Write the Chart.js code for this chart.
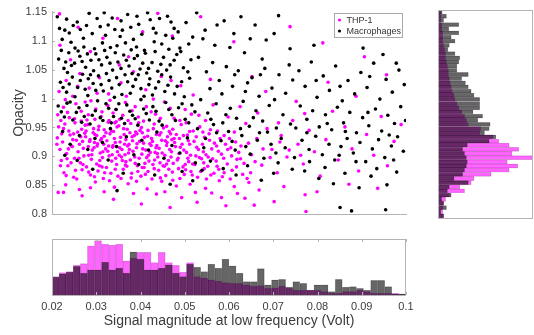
<!DOCTYPE html>
<html>
<head>
<meta charset="utf-8">
<script src="https://cdn.jsdelivr.net/npm/chart.js@4.4.1/dist/chart.umd.min.js"></script>
<style>
  body { margin: 0; background: #fff; width: 534px; height: 335px; position: relative; overflow: hidden; }
  canvas { position: absolute; }
</style>
</head>
<body>
<canvas id="scatter" width="420" height="226" style="left:0px;top:0px"></canvas>
<canvas id="histX" width="420" height="105" style="left:0px;top:230px"></canvas>
<canvas id="histY" width="114" height="230" style="left:420px;top:0px"></canvas>
<script>
const seriesNames = ["THP-1", "Macrophages"];
const xTicks = [0.02, 0.03, 0.04, 0.05, 0.06, 0.07, 0.08, 0.09, 0.1];
const yTicks = [0.8, 0.85, 0.9, 0.95, 1, 1.05, 1.1, 1.15];

// scatter points [signal, opacity]
const thpPoints = [
  [0.0215,0.951],[0.0238,0.944],[0.0252,0.958],[0.0267,0.947],[0.0281,0.955],[0.0293,0.941],[0.0306,0.952],[0.0318,0.946],[0.0327,0.959],[0.0339,0.943],
  [0.0351,0.953],[0.0362,0.948],[0.0378,0.957],[0.0389,0.942],[0.0402,0.950],[0.0417,0.945],[0.0431,0.956],[0.0446,0.941],[0.0459,0.952],[0.0473,0.947],
  [0.0492,0.955],[0.0511,0.943],[0.0534,0.951],[0.0558,0.946],[0.0229,0.956],[0.0274,0.940],[0.0345,0.960],[0.0396,0.958],[0.0452,0.949],[0.0503,0.958],
  [0.0212,0.932],[0.0224,0.925],[0.0241,0.937],[0.0255,0.928],[0.0262,0.921],[0.0276,0.934],[0.0285,0.926],[0.0297,0.938],[0.0303,0.922],[0.0312,0.931],
  [0.0324,0.927],[0.0331,0.939],[0.0343,0.924],[0.0355,0.933],[0.0367,0.929],[0.0374,0.921],[0.0386,0.936],[0.0398,0.926],[0.0409,0.933],[0.0421,0.922],
  [0.0436,0.938],[0.0448,0.928],[0.0461,0.934],[0.0477,0.924],[0.0488,0.931],[0.0506,0.937],[0.0521,0.926],[0.0545,0.933],[0.0567,0.923],[0.0589,0.936],
  [0.0247,0.929],[0.0318,0.935],[0.0392,0.939],[0.0468,0.939],
  [0.0218,0.912],[0.0233,0.905],[0.0246,0.917],[0.0259,0.908],[0.0271,0.914],[0.0283,0.902],[0.0291,0.911],[0.0302,0.918],[0.0309,0.906],[0.0321,0.913],
  [0.0329,0.901],[0.0337,0.916],[0.0348,0.908],[0.0358,0.912],[0.0365,0.903],[0.0371,0.918],[0.0383,0.909],[0.0391,0.915],[0.0403,0.904],[0.0412,0.911],
  [0.0424,0.919],[0.0433,0.907],[0.0442,0.914],[0.0455,0.902],[0.0466,0.912],[0.0479,0.917],[0.0487,0.905],[0.0498,0.911],[0.0513,0.902],[0.0527,0.916],
  [0.0542,0.908],[0.0561,0.913],[0.0583,0.904],[0.0604,0.915],[0.0295,0.915],[0.0352,0.902],[0.0418,0.902],[0.0459,0.919],
  [0.0221,0.893],[0.0236,0.884],[0.0251,0.897],[0.0264,0.889],[0.0278,0.882],[0.0289,0.895],[0.0301,0.887],[0.0314,0.898],[0.0323,0.881],[0.0335,0.892],
  [0.0346,0.886],[0.0357,0.899],[0.0369,0.883],[0.0377,0.894],[0.0388,0.888],[0.0397,0.897],[0.0408,0.881],[0.0419,0.892],[0.0428,0.886],[0.0439,0.899],
  [0.0451,0.884],[0.0463,0.893],[0.0474,0.888],[0.0485,0.897],[0.0496,0.882],[0.0509,0.891],[0.0523,0.886],[0.0538,0.896],[0.0552,0.883],[0.0571,0.892],
  [0.0596,0.887],[0.0618,0.895],
  [0.0227,0.872],[0.0249,0.864],[0.0268,0.877],[0.0287,0.868],[0.0304,0.875],[0.0316,0.862],[0.0333,0.871],[0.0349,0.866],[0.0361,0.878],[0.0379,0.863],
  [0.0394,0.874],[0.0411,0.869],[0.0426,0.861],[0.0441,0.876],[0.0457,0.867],[0.0472,0.873],[0.0489,0.862],[0.0502,0.877],[0.0517,0.868],[0.0536,0.874],
  [0.0549,0.861],[0.0566,0.871],[0.0585,0.865],[0.0607,0.876],[0.0631,0.869],
  [0.0231,0.851],[0.0262,0.843],[0.0298,0.856],[0.0341,0.847],[0.0372,0.853],[0.0415,0.844],[0.0448,0.857],[0.0481,0.849],[0.0512,0.852],[0.0547,0.845],
  [0.0578,0.858],[0.0612,0.848],[0.0645,0.855],[0.0668,0.842],
  [0.0268,0.832],[0.0339,0.826],[0.0402,0.818],[0.0436,0.835],[0.0467,0.812],[0.0493,0.829],[0.0528,0.821],[0.0561,0.837],[0.0593,0.815],[0.0636,0.828],
  [0.0702,0.822],[0.0214,0.838],
  [0.0213,0.972],[0.0226,0.985],[0.0239,0.967],[0.0254,0.991],[0.0266,0.978],[0.0279,0.963],[0.0288,0.996],[0.0299,0.982],[0.0311,0.969],[0.0326,0.988],
  [0.0338,0.975],[0.0353,0.964],[0.0366,0.993],[0.0381,0.979],[0.0395,0.968],[0.0413,0.986],[0.0434,0.973],[0.0454,0.994],[0.0476,0.966],[0.0501,0.981],
  [0.0532,0.971],[0.0564,0.989],[0.0598,0.968],
  [0.0216,1.012],[0.0232,1.031],[0.0247,1.004],[0.0263,1.043],[0.0284,1.018],[0.0307,1.036],[0.0328,1.008],[0.0356,1.027],[0.0384,1.046],[0.0412,1.015],
  [0.0447,1.038],[0.0491,1.022],[0.0558,1.033],
  [0.0218,1.092],[0.0242,1.067],[0.0259,1.123],[0.0287,1.081],[0.0315,1.104],[0.0348,1.138],[0.0373,1.072],[0.0405,1.115],[0.0439,1.147],[0.0472,1.108],
  [0.0536,1.141],[0.0611,1.098],[0.0217,1.146],[0.0352,1.058],
  [0.0612,0.942],[0.0627,0.918],[0.0638,0.957],[0.0651,0.903],[0.0663,0.931],[0.0674,0.885],[0.0686,0.948],[0.0697,0.912],[0.0709,0.872],[0.0718,0.936],
  [0.0731,0.899],[0.0744,0.962],[0.0756,0.921],[0.0768,0.887],[0.0781,0.945],[0.0793,0.908],[0.0806,0.866],[0.0819,0.929],[0.0834,0.978],[0.0847,0.894],
  [0.0862,0.951],[0.0878,0.913],[0.0893,0.875],[0.0911,0.938],[0.0927,0.902],[0.0944,0.969],[0.0958,0.884],[0.0973,0.926],[0.0989,0.955],[0.0625,0.986],
  [0.0683,1.012],[0.0752,0.995],[0.0824,1.028],[0.0887,1.004],[0.0956,1.041],[0.0641,0.862],[0.0724,0.848],[0.0799,0.839],[0.0871,0.852],[0.0936,0.845],
  [0.0665,0.975],[0.0712,0.958],[0.0771,0.974],[0.0652,1.038],[0.0906,1.072],[0.0812,1.096],[0.0738,1.124],[0.0772,0.834],[0.0774,0.805],
  [0.0244,0.918],[0.0258,0.942],[0.0272,0.901],[0.0286,0.929],[0.0294,0.948],[0.0308,0.893],[0.0317,0.921],[0.0326,0.909],[0.0334,0.944],[0.0344,0.897],
  [0.0354,0.925],[0.0363,0.938],[0.0373,0.906],[0.0382,0.927],[0.0393,0.884],[0.0404,0.941],[0.0414,0.898],[0.0425,0.931],[0.0435,0.915],[0.0444,0.889],
  [0.0456,0.927],[0.0469,0.899],[0.0481,0.938],[0.0494,0.921],[0.0507,0.897],[0.0519,0.944],[0.0531,0.912],[0.0543,0.889],[0.0556,0.928],[0.0574,0.944],
  [0.0592,0.921],[0.0234,0.896],[0.0253,0.876],[0.0275,0.954],[0.0313,0.882],[0.0342,0.958],[0.0367,0.891],[0.0401,0.866],[0.0429,0.948],[0.0464,0.878],
  [0.0499,0.869],[0.0525,0.901],[0.0553,0.899],[0.0577,0.878],[0.0222,0.939],[0.0265,0.934],[0.0301,0.936],[0.0338,0.919],[0.0376,0.941],[0.0407,0.923],
  [0.0438,0.905],[0.0471,0.929],[0.0508,0.927],[0.0541,0.942],[0.0576,0.909],[0.0601,0.931],[0.0622,0.907],[0.0644,0.923],[0.0659,0.891],[0.0677,0.913],
  [0.0693,0.898],[0.0715,0.925],[0.0736,0.911],[0.0762,0.902],
  [0.0211,0.921],[0.0226,0.948],[0.0237,0.913],[0.0249,0.939],[0.0261,0.897],[0.0269,0.926],[0.0277,0.944],[0.0282,0.917],[0.0290,0.903],[0.0296,0.924],
  [0.0305,0.946],[0.0310,0.928],[0.0315,0.908],[0.0322,0.941],[0.0328,0.918],[0.0336,0.903],[0.0341,0.931],[0.0347,0.951],[0.0353,0.915],[0.0359,0.893],
  [0.0364,0.921],[0.0370,0.947],[0.0375,0.912],[0.0381,0.934],[0.0387,0.899],[0.0392,0.922],[0.0399,0.945],[0.0405,0.913],[0.0410,0.888],[0.0416,0.935],
  [0.0422,0.907],[0.0427,0.926],[0.0432,0.894],[0.0437,0.919],[0.0443,0.937],[0.0449,0.906],[0.0454,0.883],[0.0460,0.924],[0.0465,0.943],[0.0470,0.908],
  [0.0476,0.931],[0.0483,0.894],[0.0490,0.916],[0.0497,0.936],[0.0504,0.907],[0.0511,0.921],[0.0518,0.887],[0.0526,0.934],[0.0533,0.898],[0.0540,0.921],
  [0.0548,0.903],[0.0555,0.939],[0.0563,0.896],[0.0572,0.918],[0.0580,0.931],[0.0588,0.897],[0.0597,0.912],[0.0606,0.901],[0.0615,0.925],[0.0626,0.896],
  [0.0219,0.884],[0.0232,0.867],[0.0243,0.889],[0.0256,0.861],[0.0270,0.886],[0.0283,0.873],[0.0296,0.865],[0.0307,0.884],[0.0319,0.872],[0.0330,0.858],
  [0.0343,0.878],[0.0356,0.862],[0.0366,0.885],[0.0380,0.871],[0.0391,0.857],[0.0404,0.881],[0.0417,0.874],[0.0431,0.879],[0.0445,0.863],[0.0459,0.887],
  [0.0473,0.859],[0.0486,0.879],[0.0501,0.886],[0.0514,0.874],[0.0529,0.864],[0.0544,0.879],[0.0559,0.868],[0.0573,0.883],[0.0589,0.872],[0.0603,0.861],
  [0.0617,0.882],[0.0634,0.888],[0.0649,0.872],[0.0220,0.962],[0.0235,0.976],[0.0251,0.965],[0.0266,0.961],[0.0282,0.972],[0.0297,0.964],[0.0313,0.977],
  [0.0329,0.962],[0.0344,0.981],[0.0360,0.971],[0.0372,0.962],[0.0388,0.986],[0.0407,0.961],[0.0424,0.977],[0.0445,0.966],[0.0467,0.983],[0.0489,0.962],
  [0.0515,0.973],[0.0547,0.962],[0.0230,0.998],[0.0258,1.021],[0.0275,0.994],[0.0302,1.009],[0.0331,0.997],[0.0368,1.004],[0.0429,0.999],[0.0469,1.031],
  [0.0519,1.006],[0.0226,0.838],[0.0287,0.846],[0.0318,0.839],[0.0384,0.836],[0.0455,0.839],[0.0524,0.838],[0.0583,0.829],[0.0619,0.836],[0.0657,0.816]
];

const macPoints = [
  [0.0212,1.141],[0.0229,1.118],[0.0243,1.097],[0.0257,1.132],[0.0271,1.104],[0.0284,1.147],[0.0296,1.086],[0.0309,1.124],[0.0321,1.109],[0.0336,1.139],
  [0.0347,1.091],[0.0359,1.118],[0.0371,1.145],[0.0384,1.102],[0.0396,1.128],[0.0409,1.083],[0.0422,1.136],[0.0435,1.113],[0.0448,1.094],[0.0461,1.142],
  [0.0476,1.121],[0.0489,1.087],[0.0503,1.131],[0.0518,1.106],[0.0215,1.068],[0.0227,1.052],[0.0238,1.079],[0.0251,1.061],[0.0263,1.073],[0.0276,1.054],
  [0.0288,1.066],[0.0299,1.077],[0.0312,1.058],[0.0324,1.071],[0.0337,1.049],[0.0349,1.063],[0.0362,1.075],[0.0374,1.056],[0.0386,1.069],[0.0399,1.051],
  [0.0411,1.078],[0.0426,1.062],[0.0439,1.047],[0.0452,1.071],[0.0467,1.058],[0.0482,1.076],[0.0497,1.053],[0.0514,1.067],[0.0219,1.028],[0.0233,1.011],
  [0.0246,1.037],[0.0258,1.019],[0.0269,1.042],[0.0281,1.005],[0.0293,1.026],[0.0305,1.039],[0.0316,1.013],[0.0329,1.031],[0.0341,1.002],[0.0352,1.024],
  [0.0365,1.041],[0.0377,1.009],[0.0389,1.033],[0.0401,1.017],[0.0414,1.044],[0.0427,1.006],[0.0441,1.029],[0.0455,1.012],[0.0468,1.037],[0.0483,1.021],
  [0.0499,1.003],[0.0511,1.035],[0.0214,0.987],[0.0228,0.968],[0.0241,0.994],[0.0255,0.976],[0.0267,0.959],[0.0279,0.988],[0.0291,0.971],[0.0303,0.996],
  [0.0315,0.962],[0.0328,0.983],[0.0339,0.969],[0.0351,0.991],[0.0364,0.957],[0.0376,0.978],[0.0388,0.965],[0.0401,0.998],[0.0413,0.974],[0.0428,0.986],
  [0.0442,0.961],[0.0457,0.993],[0.0471,0.972],[0.0486,0.984],[0.0501,0.964],[0.0516,0.989],[0.0223,1.102],[0.0248,1.126],[0.0272,1.089],[0.0318,1.148],
  [0.0354,1.107],[0.0392,1.142],[0.0431,1.098],[0.0473,1.104],[0.0235,1.045],[0.0282,1.034],[0.0332,1.088],[0.0379,1.084],[0.0419,1.024],[0.0464,1.085],
  [0.0527,1.148],[0.0546,1.118],[0.0568,1.092],[0.0589,1.134],[0.0611,1.112],[0.0635,1.079],[0.0659,1.127],[0.0684,1.101],[0.0712,1.143],[0.0738,1.086],
  [0.0531,1.071],[0.0549,1.046],[0.0563,1.062],[0.0578,1.031],[0.0594,1.055],[0.0608,1.021],[0.0621,1.048],[0.0637,1.012],[0.0652,1.036],[0.0668,1.004],
  [0.0681,1.052],[0.0697,1.018],[0.0713,1.041],[0.0728,1.009],[0.0744,1.032],[0.0536,0.998],[0.0552,0.975],[0.0571,0.991],[0.0586,0.958],[0.0603,0.983],
  [0.0617,0.966],[0.0632,0.995],[0.0646,0.952],[0.0661,0.979],[0.0676,0.961],[0.0691,0.988],[0.0707,0.949],[0.0722,0.972],[0.0739,0.956],[0.0529,0.948],
  [0.0547,0.931],[0.0565,0.955],[0.0582,0.927],[0.0599,0.943],[0.0614,0.911],[0.0629,0.936],[0.0648,0.904],[0.0664,0.928],[0.0679,0.897],[0.0695,0.921],
  [0.0711,0.889],[0.0727,0.915],[0.0743,0.878],[0.0558,0.892],[0.0587,0.879],[0.0616,0.868],[0.0642,0.884],[0.0673,0.859],[0.0701,0.871],
  [0.0758,1.048],[0.0772,1.021],[0.0786,1.063],[0.0799,1.002],[0.0813,1.039],[0.0827,1.014],[0.0841,1.056],[0.0856,0.996],[0.0869,1.031],[0.0884,1.008],
  [0.0898,1.045],[0.0912,1.019],[0.0927,1.061],[0.0941,0.999],[0.0955,1.033],[0.0969,1.011],[0.0984,1.049],[0.0996,1.024],[0.0761,0.987],[0.0776,0.964],
  [0.0789,0.979],[0.0804,0.951],[0.0818,0.972],[0.0832,0.946],[0.0845,0.985],[0.0859,0.958],[0.0873,0.976],[0.0888,0.941],[0.0902,0.967],[0.0916,0.953],
  [0.0931,0.982],[0.0945,0.944],[0.0959,0.971],[0.0974,0.957],[0.0988,0.986],[0.0999,0.962],[0.0765,0.928],[0.0781,0.912],[0.0796,0.935],[0.0811,0.903],
  [0.0826,0.921],[0.0839,0.894],[0.0853,0.917],[0.0867,0.931],[0.0881,0.906],[0.0896,0.924],[0.0909,0.891],[0.0924,0.913],[0.0938,0.929],[0.0952,0.898],
  [0.0967,0.918],[0.0981,0.934],[0.0994,0.909],[0.0771,0.875],[0.0803,0.862],[0.0836,0.853],[0.0862,0.871],[0.0894,0.846],[0.0921,0.866],[0.0957,0.851],
  [0.0979,0.873],[0.0851,0.812],[0.0877,0.806],[0.0954,0.808],[0.0792,1.092],[0.0846,1.118],[0.0903,1.087],[0.0948,1.076],[0.0872,1.128],
  [0.0224,0.943],[0.0241,0.921],[0.0262,0.936],[0.0281,0.912],[0.0297,0.931],[0.0314,0.924],[0.0332,0.948],[0.0346,0.917],[0.0368,0.934],[0.0385,0.903],
  [0.0403,0.928],[0.0418,0.911],[0.0437,0.942],[0.0453,0.897],[0.0471,0.919],[0.0489,0.906],[0.0506,0.932],[0.0524,0.889],[0.0543,0.915],[0.0257,0.893],
  [0.0292,0.878],[0.0327,0.894],[0.0361,0.871],[0.0396,0.886],[0.0432,0.868],[0.0467,0.852],[0.0494,0.874],[0.0518,0.858],[0.0539,0.876],[0.0347,0.841],
  [0.0229,0.902],
  [0.0217,1.121],[0.0233,1.137],[0.0239,1.113],[0.0252,1.087],[0.0264,1.119],[0.0278,1.126],[0.0291,1.112],[0.0302,1.138],[0.0314,1.096],[0.0327,1.127],
  [0.0342,1.119],[0.0356,1.134],[0.0366,1.096],[0.0378,1.123],[0.0391,1.089],[0.0403,1.111],[0.0416,1.148],[0.0429,1.121],[0.0443,1.138],[0.0457,1.109],
  [0.0469,1.132],[0.0485,1.115],[0.0509,1.094],[0.0221,1.083],[0.0231,1.063],[0.0244,1.057],[0.0259,1.082],[0.0268,1.064],[0.0280,1.077],[0.0294,1.048],
  [0.0306,1.067],[0.0319,1.083],[0.0331,1.061],[0.0343,1.079],[0.0356,1.052],[0.0368,1.066],[0.0381,1.043],[0.0393,1.074],[0.0405,1.061],[0.0418,1.052],
  [0.0433,1.081],[0.0446,1.059],[0.0459,1.049],[0.0476,1.066],[0.0491,1.081],[0.0507,1.046],[0.0225,1.019],[0.0239,1.025],[0.0252,1.003],[0.0264,1.031],
  [0.0275,1.016],[0.0287,1.041],[0.0299,1.014],[0.0311,1.024],[0.0323,1.043],[0.0335,1.018],[0.0346,1.036],[0.0358,1.007],[0.0371,1.029],[0.0383,1.021],
  [0.0395,1.041],[0.0408,1.004],[0.0421,1.034],[0.0434,1.018],[0.0448,1.041],[0.0462,1.023],[0.0477,1.008],[0.0493,1.029],[0.0221,0.977],[0.0234,0.992],
  [0.0247,0.963],[0.0261,0.984],[0.0273,0.969],[0.0286,0.956],[0.0298,0.979],[0.0309,0.967],[0.0322,0.991],[0.0334,0.958],[0.0345,0.981],[0.0357,0.966],
  [0.0369,0.989],[0.0382,0.971],[0.0394,0.954],[0.0407,0.982],[0.0420,0.963],[0.0435,0.978],[0.0449,0.954],[0.0464,0.981],[0.0479,0.962],[0.0494,0.991],
  [0.0509,0.958],[0.0523,0.977],
  [0.0541,1.103],[0.0573,1.127],[0.0602,1.088],[0.0627,1.141],[0.0648,1.103],[0.0675,1.068],[0.0702,1.112],[0.0557,1.017],[0.0584,1.008],[0.0613,1.041],
  [0.0642,1.027],[0.0671,1.041],[0.0703,0.998],[0.0736,1.058],[0.0559,0.964],[0.0593,0.972],[0.0626,0.948],[0.0655,0.967],[0.0687,0.942],[0.0718,0.931],
  [0.0751,0.949],[0.0572,0.941],[0.0607,0.926],[0.0638,0.917],[0.0669,0.941],[0.0706,0.906],[0.0748,0.898],[0.0782,0.891],[0.0817,0.881],[0.0849,0.902],
  [0.0887,0.891],[0.0934,0.879],[0.0972,0.894],[0.0776,0.941],[0.0822,0.957],[0.0863,0.943],[0.0914,0.976],[0.0962,0.937],[0.0797,1.031],[0.0851,1.021],
  [0.0918,1.038],[0.0978,1.061]
];

// bottom histogram: 50 bins of 0.0016 from 0.02 (relative heights)
const xBinStart = 0.02, xBinWidth = 0.0016;
const thpHistX = [33,40,42,53,56,88,97,91,89,91, 61,66,76,76,58,76,58,53,41,58,
  33,30,27,25,22,21,21,18,16,17, 12,13,16,12,9,9,9,9,6,3, 3,6,6,9,6,3,3,3,3,1];
const macHistX = [32,38,41,51,39,45,45,59,45,48, 39,77,64,45,45,48,54,39,33,55,
  50,42,55,48,64,52,39,24,24,47, 18,27,28,14,24,21,9,18,18,6, 28,14,15,12,9,26,26,15,2,2];

// right histogram: 50 bins of 0.007 going down from 1.15 (relative lengths)
const yBinTop = 1.15, yBinHeight = 0.007;
const thpHistY = [3,3,3,4,4,5,5,5,6,7, 8,8,9,10,11,11,12,13,14,15,
  17,18,20,22,25,28,30,32,45,44, 58,64,75,85,78,100,73,84,75,56, 38,35,23,28,12,8,6,5,5,6];
const macHistY = [4.5,9,6,22,11.5,22,14,18,12,10.5, 18,23,22,20,20,32,25,29,32,35,
  38,44,44,44,37,47,42,55,54,49, 61,54,31,26,28,30,31,30,28,26, 17,32,12,10,14,4,6,9,3,6];

const magenta = "#ff00ff";
const textColor = "#3c3c3c";
const axisColor = "#b4b4b4";
const fontFamily = "'Liberation Sans', Arial, sans-serif";

Chart.defaults.font.family = fontFamily;
Chart.defaults.animation = false;
Chart.defaults.responsive = false;
Chart.defaults.plugins.tooltip.enabled = false;

const fmt = (v) => String(+v.toFixed(3));

// box and inward tick marks
const framePlugin = {
  id: "frame",
  afterDatasetsDraw(chart, args, opts) {
    const { ctx, chartArea: a } = chart;
    ctx.save();
    ctx.strokeStyle = axisColor;
    ctx.lineWidth = 1;
    if (opts.box) {
      ctx.strokeRect(Math.round(a.left) + 0.5, Math.round(a.top) + 0.5,
        Math.round(a.right - a.left) - 1, Math.round(a.bottom - a.top));
    }
    if (opts.xTickMarks) {
      const sx = chart.scales.x;
      opts.xTickMarks.forEach((t) => {
        const px = Math.round(sx.getPixelForValue(t)) + 0.5;
        ctx.beginPath();
        ctx.moveTo(px, a.top); ctx.lineTo(px, a.top + 3);
        ctx.moveTo(px, a.bottom); ctx.lineTo(px, a.bottom - 3);
        ctx.stroke();
      });
    }
    if (opts.yTickMarks) {
      const sy = chart.scales.y;
      opts.yTickMarks.forEach((t) => {
        const py = Math.round(sy.getPixelForValue(t)) + 0.5;
        ctx.beginPath();
        ctx.moveTo(a.left, py); ctx.lineTo(a.left + 3, py);
        ctx.stroke();
      });
    }
    ctx.restore();
  }
};

// legend box inside the scatter axes, top right
const legendBoxPlugin = {
  id: "legendBox",
  afterDraw(chart) {
    const { ctx } = chart;
    const x = 334, y = 13, w = 68, h = 24;
    ctx.save();
    ctx.fillStyle = "#fff";
    ctx.fillRect(x, y, w, h);
    ctx.strokeStyle = "#a8a8a8";
    ctx.lineWidth = 1;
    ctx.strokeRect(x + 0.5, y + 0.5, w, h);
    ctx.font = "9px " + fontFamily;
    ctx.textBaseline = "middle";
    seriesNames.forEach((name, i) => {
      const ds = chart.data.datasets.find((d) => d.label === name);
      const cy = y + 7 + i * 11;
      ctx.fillStyle = ds.backgroundColor;
      ctx.beginPath();
      ctx.arc(x + 5.5, cy, 1.6, 0, Math.PI * 2);
      ctx.fill();
      ctx.fillStyle = "#333";
      ctx.fillText(name, x + 12.5, cy + 0.5);
    });
    ctx.restore();
  }
};

new Chart(document.getElementById("scatter"), {
  type: "scatter",
  data: {
    datasets: [
      {
        label: seriesNames[0],
        data: thpPoints.map((p) => ({ x: p[0], y: p[1] })),
        backgroundColor: magenta,
        borderWidth: 0,
        pointRadius: 1.8,
        order: 1,
      },
      {
        label: seriesNames[1],
        data: macPoints.map((p) => ({ x: p[0], y: p[1] })),
        backgroundColor: "#000000",
        borderWidth: 0,
        pointRadius: 1.8,
        order: 0,
      },
    ],
  },
  options: {
    layout: { padding: { left: 0, top: 10, right: 14, bottom: 8 } },
    plugins: { legend: { display: false }, frame: { yTickMarks: yTicks } },
    scales: {
      x: {
        type: "linear", min: 0.02, max: 0.1,
        ticks: { display: false },
        grid: { drawOnChartArea: false, drawTicks: false },
        border: { color: axisColor },
        afterFit: (s) => { s.height = 0; },
      },
      y: {
        type: "linear", min: 0.8, max: 1.15,
        afterBuildTicks: (s) => { s.ticks = yTicks.map((v) => ({ value: v })); },
        ticks: { color: textColor, font: { size: 11 }, padding: 5, callback: (v) => fmt(v) },
        grid: { drawOnChartArea: false, drawTicks: false },
        border: { color: axisColor },
        title: { display: true, text: "Opacity", color: textColor, font: { size: 14 }, padding: { top: 11, bottom: 0 } },
        afterFit: (s) => { s.width = 52; },
      },
    },
  },
  plugins: [framePlugin, legendBoxPlugin],
});

const barStyle = (color) => ({
  backgroundColor: color,
  borderColor: "rgba(40,0,40,0.22)",
  borderWidth: 0.5,
  barPercentage: 1,
  categoryPercentage: 1,
  grouped: false,
});

new Chart(document.getElementById("histX"), {
  type: "bar",
  data: {
    datasets: [
      Object.assign({ label: seriesNames[0], order: 1,
        data: thpHistX.map((v, i) => ({ x: xBinStart + xBinWidth * (i + 0.5), y: v })) },
        barStyle("rgba(255,0,255,0.6)")),
      Object.assign({ label: seriesNames[1], order: 0,
        data: macHistX.map((v, i) => ({ x: xBinStart + xBinWidth * (i + 0.5), y: v })) },
        barStyle("rgba(0,0,0,0.6)")),
    ],
  },
  options: {
    layout: { padding: { left: 52, top: 9, right: 14, bottom: 0 } },
    plugins: { legend: { display: false }, frame: { box: true, xTickMarks: xTicks } },
    scales: {
      x: {
        type: "linear", min: 0.02, max: 0.1, offset: false,
        afterBuildTicks: (s) => { s.ticks = xTicks.map((v) => ({ value: v })); },
        ticks: { color: textColor, font: { size: 11 }, padding: 5, maxRotation: 0, callback: (v) => fmt(v) },
        grid: { drawOnChartArea: false, drawTicks: false },
        border: { display: false },
        title: { display: true, text: "Signal magnitude at low frequency (Volt)", color: textColor, font: { size: 14 }, padding: { top: 0, bottom: 5 } },
        afterFit: (s) => { s.height = 40; },
      },
      y: { display: false, min: 0, max: 100 },
    },
  },
  plugins: [framePlugin],
});

new Chart(document.getElementById("histY"), {
  type: "bar",
  data: {
    datasets: [
      Object.assign({ label: seriesNames[0], order: 1,
        data: thpHistY.map((v, i) => ({ y: yBinTop - yBinHeight * (i + 0.5), x: v })) },
        barStyle("rgba(255,0,255,0.6)")),
      Object.assign({ label: seriesNames[1], order: 0,
        data: macHistY.map((v, i) => ({ y: yBinTop - yBinHeight * (i + 0.5), x: v })) },
        barStyle("rgba(0,0,0,0.6)")),
    ],
  },
  options: {
    indexAxis: "y",
    layout: { padding: { left: 18, top: 10, right: 1, bottom: 12 } },
    plugins: { legend: { display: false }, frame: { box: true } },
    scales: {
      y: { type: "linear", display: false, min: 0.8, max: 1.15, offset: false },
      x: { type: "linear", display: false, min: 0, max: 100 },
    },
  },
  plugins: [framePlugin],
});
</script>
</body>
</html>
